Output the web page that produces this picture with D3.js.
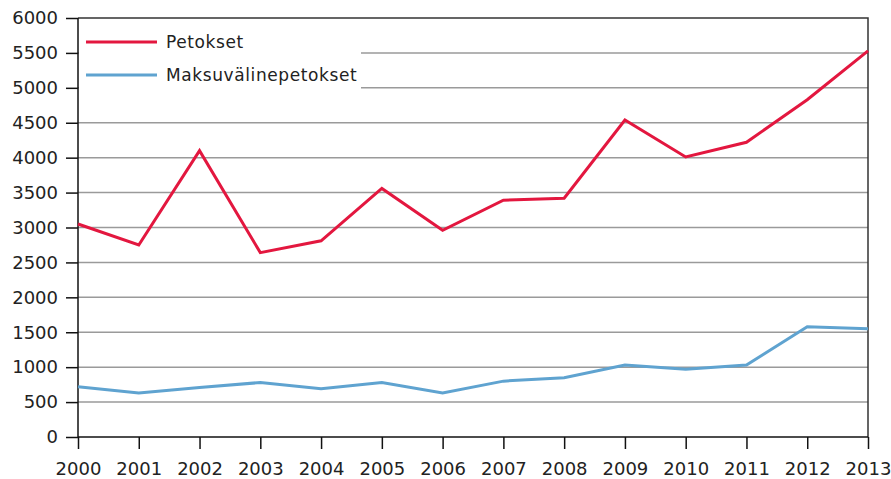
<!DOCTYPE html>
<html><head><meta charset="utf-8">
<script src="https://cdn.jsdelivr.net/npm/d3@7"></script>
<style>body{margin:0;background:#fff}svg{display:block}</style>
</head><body>
<script>
const years = [2000,2001,2002,2003,2004,2005,2006,2007,2008,2009,2010,2011,2012,2013];
const petokset = [3050,2750,4100,2640,2810,3560,2960,3390,3420,4540,4010,4220,4830,5530];
const maksu = [720,630,710,780,690,780,630,800,850,1030,970,1030,1580,1550];
const yTicks = [0,500,1000,1500,2000,2500,3000,3500,4000,4500,5000,5500,6000];
const seriesNames = ["Petokset","Maksuvälinepetokset"];
const colors = ["#e3173f","#5fa3d0"];

const W=891,H=479;
const m={l:78,r:868,t:18,b:437};
const svg=d3.select("body").append("svg").attr("width",W).attr("height",H);
const x=d3.scaleLinear().domain([2000,2013]).range([m.l,m.r]);
const y=d3.scaleLinear().domain([0,6000]).range([m.b,m.t]);
const font="'DejaVu Sans', Verdana, sans-serif";

// gridlines
svg.append("g").selectAll("line").data(yTicks.filter(d=>d>0&&d<6000)).join("line")
 .attr("x1",m.l).attr("x2",m.r).attr("y1",d=>y(d)).attr("y2",d=>y(d))
 .attr("stroke","#9a9a9a").attr("stroke-width",1.5);

// legend box (white) covering gridlines
svg.append("rect").attr("x",m.l+1).attr("y",m.t+1).attr("width",282).attr("height",74).attr("fill","#fff");

// frame top/right
svg.append("path").attr("d",`M${m.l},${m.t}H${m.r}V${m.b}`).attr("fill","none").attr("stroke","#333").attr("stroke-width",1.5);

// axes
const ya=svg.append("g").attr("transform",`translate(${m.l},0)`)
 .call(d3.axisLeft(y).tickValues(yTicks).tickSize(12).tickPadding(8).tickFormat(d3.format("d")));
const xa=svg.append("g").attr("transform",`translate(0,${m.b})`)
 .call(d3.axisBottom(x).tickValues(years).tickSize(12).tickPadding(13).tickFormat(d3.format("d")));
[ya,xa].forEach(a=>{
 a.select(".domain").attr("stroke","#111").attr("stroke-width",1.5);
 a.selectAll(".tick line").attr("stroke","#111").attr("stroke-width",1.5);
 a.selectAll("text").attr("font-family",font).attr("font-size",18).attr("fill","#222");
});
ya.select(".domain").attr("d",`M0,${m.t}V${m.b}`);
xa.select(".domain").attr("d",`M${m.l},0H${m.r}`);

const line=d3.line().x((d,i)=>x(years[i])).y(d=>y(d));
[petokset,maksu].forEach((s,k)=>{
 svg.append("path").datum(s).attr("d",line).attr("fill","none")
  .attr("stroke",colors[k]).attr("stroke-width",3).attr("stroke-linejoin","miter");
});

// legend
const lg=svg.append("g");
seriesNames.forEach((n,i)=>{
 const yy=42+i*33;
 lg.append("line").attr("x1",86).attr("x2",157).attr("y1",yy).attr("y2",yy).attr("stroke",colors[i]).attr("stroke-width",3);
 lg.append("text").attr("x",166).attr("y",yy+6).text(n).attr("font-family",font).attr("font-size",17).attr("letter-spacing",0.6).attr("fill","#222");
});
</script>
</body></html>
